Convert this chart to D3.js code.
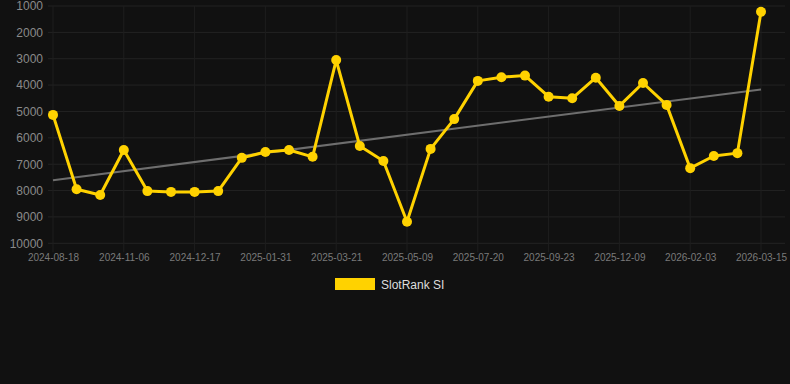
<!DOCTYPE html>
<html><head><meta charset="utf-8">
<script src="https://cdn.jsdelivr.net/npm/d3@7"></script>
<style>
html,body{margin:0;padding:0;background:#111111;}
svg{display:block;}
</style></head>
<body>
<svg id="c" width="790" height="384"></svg>
<script>
// Category labels (every third one is shown on the axis; others estimated)
const categories = [
  "2024-08-18","2024-09-14","2024-10-10","2024-11-06","2024-11-20","2024-12-03",
  "2024-12-17","2025-01-01","2025-01-16","2025-01-31","2025-02-16","2025-03-05",
  "2025-03-21","2025-04-06","2025-04-23","2025-05-09","2025-06-01","2025-06-25",
  "2025-07-20","2025-08-10","2025-09-01","2025-09-23","2025-10-19","2025-11-14",
  "2025-12-09","2025-12-28","2026-01-16","2026-02-03","2026-02-16","2026-03-01",
  "2026-03-15"
];
const seriesName = "SlotRank SI";
const values = [
  5130, 7950, 8170, 6460, 8020, 8050, 8050, 8020, 6760, 6540, 6460, 6720,
  3050, 6310, 6880, 9180, 6420, 5290, 3840, 3700, 3640, 4440, 4500, 3720,
  4790, 3920, 4750, 7150, 6690, 6580, 1220
];
const yTicks = [1000,2000,3000,4000,5000,6000,7000,8000,9000,10000];
const labelEvery = 3;

const svg = d3.select("#c");
const pLeft = 53, pRight = 761, pTop = 6, pBottom = 243.3;

const x = d3.scalePoint().domain(d3.range(categories.length)).range([pLeft, pRight]);
const y = d3.scaleLinear().domain([1000, 10000]).range([pTop, pBottom]);

// horizontal grid
svg.append("g").selectAll("line").data(yTicks).join("line")
  .attr("x1", 48).attr("x2", 785)
  .attr("y1", d => y(d)).attr("y2", d => y(d))
  .attr("stroke", "#232323").attr("stroke-width", 1);

const shownIdx = d3.range(categories.length).filter(i => i % labelEvery === 0);
// vertical grid
svg.append("g").selectAll("line").data(shownIdx).join("line")
  .attr("x1", d => x(d)).attr("x2", d => x(d))
  .attr("y1", pTop).attr("y2", pBottom + 9)
  .attr("stroke", "#1e1e1e").attr("stroke-width", 1);

// y axis labels
const yAxis = d3.axisLeft(y).tickValues(yTicks).tickSize(0).tickPadding(0).tickFormat(d3.format("d"));
const gy = svg.append("g").attr("transform", "translate(43,0)").call(yAxis);
gy.select(".domain").remove();
gy.selectAll("text").attr("fill", "#8a8a8a").style("font-family", "Arial, 'Liberation Sans', sans-serif").style("font-size", "12px");

// x axis labels
const xAxis = d3.axisBottom(x).tickValues(shownIdx).tickSize(0).tickPadding(0).tickFormat(i => categories[i]);
const gx = svg.append("g").attr("transform", "translate(0,254)").call(xAxis);
gx.select(".domain").remove();
gx.selectAll("text").attr("fill", "#7a7a7a").style("font-family", "Arial, 'Liberation Sans', sans-serif").style("font-size", "10px");

// trend line (least squares)
const n = values.length;
const mx = d3.mean(d3.range(n)), my = d3.mean(values);
let sxy = 0, sxx = 0;
values.forEach((v, i) => { sxy += (i - mx) * (v - my); sxx += (i - mx) * (i - mx); });
const slope = sxy / sxx, icpt = my - slope * mx;
svg.append("line")
  .attr("x1", x(0)).attr("y1", y(icpt))
  .attr("x2", x(n - 1)).attr("y2", y(icpt + slope * (n - 1)))
  .attr("stroke", "#6e6e6e").attr("stroke-width", 2);

// series line
const gold = "#FFD200";
svg.append("path").datum(values)
  .attr("fill", "none").attr("stroke", gold).attr("stroke-width", 3)
  .attr("stroke-linejoin", "round")
  .attr("d", d3.line().x((d, i) => x(i)).y(d => y(d)));

svg.append("g").selectAll("circle").data(values).join("circle")
  .attr("cx", (d, i) => x(i)).attr("cy", d => y(d)).attr("r", 5)
  .attr("fill", gold);

// legend
const lg = svg.append("g");
lg.append("rect").attr("x", 335.5).attr("y", 278.5).attr("width", 39).attr("height", 11)
  .attr("fill", gold).attr("stroke", gold).attr("stroke-width", 1);
lg.append("text").attr("x", 381).attr("y", 288.5).text(seriesName)
  .attr("fill", "#dddddd").style("font-family", "Arial, 'Liberation Sans', sans-serif").style("font-size", "12px");
</script>
</body></html>
